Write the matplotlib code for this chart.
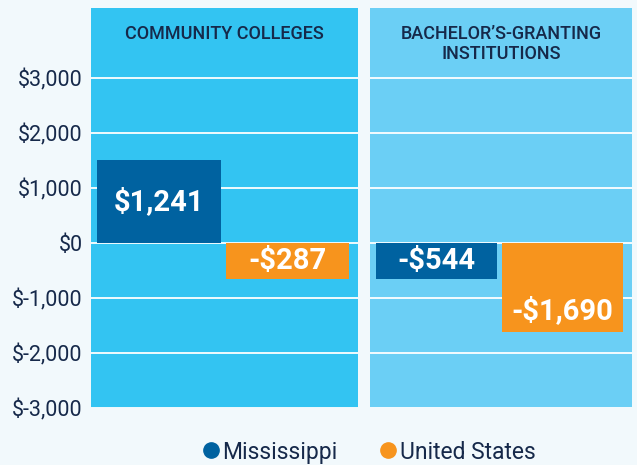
import matplotlib
matplotlib.use("Agg")
import matplotlib.pyplot as plt
from matplotlib.lines import Line2D

plt.rcParams["font.family"] = ["Roboto", "DejaVu Sans"]

# data
panels = ["COMMUNITY COLLEGES", "BACHELOR\u2019S-GRANTING\nINSTITUTIONS"]
series = ["Mississippi", "United States"]
values = [[1241, -287], [-544, -1690]]
labels = [["$1,241", "-$287"], ["-$544", "-$1,690"]]
# bar extents as drawn in the picture (boxes are sized to hold the labels)
bar_ends = [[1504, -655], [-655, -1618]]
yticks = [3000, 2000, 1000, 0, -1000, -2000, -3000]
ytick_labels = ["$3,000", "$2,000", "$1,000", "$0", "$-1,000", "$-2,000", "$-3,000"]

bg = "#F2F9FC"
panel_colors = ["#33C4F2", "#6BCFF5"]
bar_colors = ["#0062A0", "#F7941D"]
navy = "#16294A"

fig = plt.figure(figsize=(6.37, 4.65), dpi=100, facecolor=bg)

W, H = 637, 465
boxes = [(91, 358), (370, 632)]
top_px, bot_px = 8, 407.7

for i, (x0, x1) in enumerate(boxes):
    ax = fig.add_axes([x0 / W, 1 - bot_px / H, (x1 - x0) / W, (bot_px - top_px) / H])
    ax.set_facecolor(panel_colors[i])
    ax.set_xlim(-0.53, 1.55)
    ax.set_ylim(-3000, 4267)
    for s in ax.spines.values():
        s.set_visible(False)
    ax.set_yticks(yticks)
    ax.yaxis.grid(True, color="white", linewidth=1.3)
    ax.set_axisbelow(True)
    ax.set_xticks([])
    ax.tick_params(axis="y", length=0, pad=6)
    if i == 0:
        ax.set_yticklabels(ytick_labels, fontsize=15.5, color=navy)
    else:
        ax.set_yticklabels([])

    for j in range(2):
        ax.bar(j, bar_ends[i][j], width=0.96, color=bar_colors[j], zorder=3)
        end = bar_ends[i][j]
        if abs(end) > 1000 and end < 0:
            ly = end + 380
        else:
            ly = end / 2
        ax.text(j, ly, labels[i][j], ha="center", va="center", color="white",
                fontsize=21, fontweight="bold", zorder=4)

    ax.text(0.5, 0.957, panels[i], transform=ax.transAxes, ha="center", va="top",
            fontsize=13, fontweight="medium", color=navy, linespacing=1.1)

handles = [Line2D([], [], marker="o", linestyle="none", markersize=11,
                  color=c) for c in bar_colors]
fig.legend(handles, series, loc="center", bbox_to_anchor=(0.577, 1 - 452 / H),
           ncol=2, frameon=False, fontsize=16.5, handletextpad=0.0,
           columnspacing=1.7, labelcolor=navy, handlelength=1.0)

fig.savefig("out.png", dpi=100, facecolor=bg)
